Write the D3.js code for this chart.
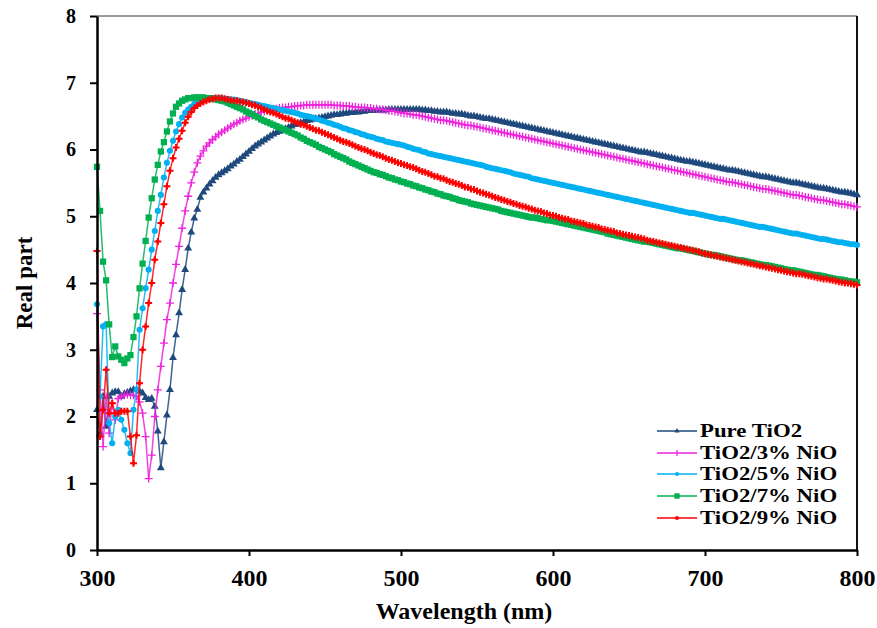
<!DOCTYPE html>
<html><head><meta charset="utf-8">
<script src="https://cdn.jsdelivr.net/npm/d3@7/dist/d3.min.js"></script>
<style>body{margin:0;background:#fff}text{font-family:"Liberation Serif","Times New Roman",serif;font-weight:bold;fill:#000}</style>
</head><body><svg id="c" width="877" height="628"></svg>
<script>
// Wavelength grid (nm), one point every 2 nm
const wavelengths = d3.range(300, 801, 2);

const pureTiO2 = [
2.10,1.75,2.30,1.85,2.30,2.35,2.37,2.37,2.30,2.34,
2.36,2.38,2.40,2.40,2.38,2.35,2.28,2.25,2.27,2.15,
1.78,1.23,1.62,2.02,2.40,2.88,3.22,3.55,3.90,4.20,
4.52,4.76,4.97,5.10,5.28,5.36,5.42,5.48,5.53,5.58,
5.62,5.65,5.68,5.71,5.75,5.78,5.82,5.85,5.89,5.93,
5.97,6.01,6.05,6.08,6.11,6.14,6.17,6.20,6.23,6.25,
6.27,6.29,6.31,6.33,6.35,6.37,6.38,6.40,6.41,6.43,
6.44,6.45,6.46,6.47,6.48,6.49,6.50,6.51,6.52,6.52,
6.53,6.54,6.54,6.55,6.55,6.56,6.56,6.57,6.57,6.58,
6.58,6.58,6.59,6.59,6.59,6.59,6.60,6.60,6.60,6.60,
6.60,6.60,6.60,6.60,6.60,6.60,6.60,6.59,6.59,6.58,
6.58,6.57,6.57,6.56,6.56,6.56,6.55,6.54,6.54,6.53,
6.53,6.52,6.51,6.50,6.50,6.49,6.48,6.47,6.46,6.46,
6.45,6.44,6.43,6.42,6.41,6.40,6.39,6.38,6.37,6.36,
6.35,6.34,6.33,6.32,6.31,6.30,6.29,6.28,6.27,6.26,
6.25,6.24,6.23,6.22,6.21,6.20,6.19,6.18,6.17,6.16,
6.15,6.14,6.13,6.12,6.11,6.10,6.09,6.08,6.07,6.06,
6.05,6.04,6.03,6.02,6.01,6.00,5.99,5.98,5.97,5.96,
5.96,5.95,5.94,5.93,5.92,5.91,5.90,5.89,5.88,5.87,
5.86,5.85,5.84,5.83,5.82,5.82,5.81,5.80,5.79,5.78,
5.77,5.76,5.75,5.74,5.73,5.72,5.71,5.70,5.69,5.69,
5.68,5.67,5.66,5.65,5.64,5.63,5.62,5.61,5.60,5.59,
5.59,5.58,5.57,5.56,5.55,5.54,5.53,5.52,5.51,5.50,
5.50,5.49,5.48,5.47,5.46,5.45,5.44,5.43,5.42,5.42,
5.41,5.40,5.39,5.38,5.37,5.36,5.36,5.35,5.34,5.33,
5.32];

const nio3 = [
3.54,2.40,1.55,2.30,1.75,2.20,1.95,2.27,2.30,2.32,
2.33,2.32,2.32,2.30,2.22,2.05,1.70,1.07,1.42,2.00,
2.40,2.75,3.10,3.45,3.70,4.00,4.28,4.55,4.82,5.08,
5.30,5.50,5.66,5.80,5.90,5.98,6.05,6.10,6.15,6.19,
6.23,6.26,6.29,6.32,6.35,6.38,6.40,6.43,6.45,6.47,
6.49,6.51,6.53,6.54,6.56,6.57,6.58,6.59,6.60,6.61,
6.62,6.63,6.63,6.64,6.64,6.65,6.65,6.66,6.66,6.67,
6.67,6.67,6.67,6.67,6.67,6.67,6.67,6.67,6.66,6.66,
6.66,6.65,6.65,6.65,6.64,6.64,6.63,6.63,6.63,6.62,
6.62,6.61,6.61,6.60,6.60,6.59,6.58,6.58,6.57,6.56,
6.55,6.54,6.54,6.53,6.52,6.52,6.51,6.50,6.49,6.48,
6.47,6.46,6.45,6.44,6.44,6.43,6.42,6.41,6.40,6.39,
6.38,6.37,6.36,6.36,6.35,6.34,6.33,6.32,6.31,6.30,
6.29,6.28,6.27,6.26,6.25,6.24,6.23,6.22,6.21,6.20,
6.19,6.18,6.17,6.16,6.15,6.14,6.13,6.12,6.11,6.10,
6.09,6.08,6.07,6.06,6.05,6.04,6.03,6.02,6.01,6.00,
5.99,5.98,5.97,5.96,5.95,5.94,5.93,5.92,5.91,5.90,
5.89,5.88,5.87,5.86,5.85,5.84,5.83,5.82,5.81,5.80,
5.79,5.78,5.77,5.76,5.75,5.74,5.73,5.72,5.71,5.70,
5.69,5.68,5.67,5.66,5.65,5.64,5.63,5.62,5.61,5.60,
5.59,5.58,5.57,5.56,5.55,5.54,5.53,5.52,5.51,5.51,
5.50,5.49,5.48,5.47,5.46,5.45,5.44,5.43,5.42,5.41,
5.41,5.40,5.39,5.38,5.37,5.36,5.35,5.34,5.33,5.32,
5.32,5.31,5.30,5.29,5.28,5.27,5.26,5.25,5.24,5.24,
5.23,5.22,5.21,5.20,5.19,5.18,5.18,5.17,5.16,5.15,
5.14];

const nio5 = [
3.68,2.30,3.35,3.38,1.90,1.60,2.00,2.10,1.95,1.80,
1.60,1.45,2.10,2.40,3.30,3.62,3.92,4.20,4.50,4.78,
5.08,5.32,5.58,5.80,5.98,6.13,6.27,6.38,6.48,6.55,
6.60,6.64,6.68,6.71,6.73,6.75,6.76,6.77,6.77,6.77,
6.77,6.77,6.76,6.76,6.75,6.75,6.74,6.73,6.72,6.71,
6.70,6.69,6.68,6.67,6.66,6.65,6.64,6.63,6.62,6.61,
6.60,6.59,6.58,6.57,6.56,6.55,6.54,6.52,6.51,6.50,
6.49,6.48,6.46,6.45,6.43,6.42,6.40,6.39,6.37,6.36,
6.34,6.32,6.31,6.29,6.28,6.26,6.25,6.23,6.22,6.20,
6.19,6.18,6.16,6.15,6.14,6.12,6.11,6.10,6.09,6.08,
6.07,6.06,6.04,6.03,6.01,6.00,5.99,5.97,5.96,5.94,
5.93,5.92,5.91,5.90,5.89,5.88,5.87,5.86,5.85,5.84,
5.83,5.82,5.81,5.80,5.79,5.78,5.77,5.76,5.74,5.73,
5.72,5.71,5.70,5.69,5.68,5.67,5.66,5.64,5.63,5.62,
5.61,5.60,5.59,5.57,5.56,5.55,5.54,5.53,5.52,5.51,
5.50,5.49,5.48,5.47,5.46,5.45,5.44,5.43,5.42,5.41,
5.40,5.39,5.38,5.37,5.36,5.35,5.34,5.33,5.32,5.31,
5.30,5.29,5.28,5.27,5.26,5.25,5.24,5.23,5.22,5.21,
5.20,5.19,5.18,5.17,5.16,5.15,5.14,5.13,5.12,5.11,
5.10,5.09,5.08,5.07,5.06,5.05,5.05,5.04,5.03,5.02,
5.01,5.00,4.99,4.98,4.97,4.96,4.96,4.95,4.94,4.93,
4.92,4.91,4.90,4.89,4.88,4.87,4.86,4.85,4.84,4.84,
4.83,4.82,4.81,4.80,4.79,4.78,4.77,4.76,4.75,4.74,
4.74,4.73,4.72,4.71,4.70,4.69,4.68,4.67,4.66,4.66,
4.65,4.64,4.63,4.62,4.61,4.61,4.60,4.59,4.58,4.58,
4.57];

const nio7 = [
5.74,5.08,4.32,4.04,3.38,2.89,3.05,2.90,2.85,2.80,
2.87,2.92,3.19,3.50,3.92,4.29,4.63,4.98,5.27,5.55,
5.77,5.97,6.11,6.27,6.42,6.54,6.64,6.69,6.73,6.75,
6.77,6.77,6.78,6.78,6.78,6.78,6.77,6.77,6.76,6.75,
6.74,6.73,6.72,6.70,6.68,6.66,6.64,6.62,6.60,6.57,
6.55,6.53,6.50,6.48,6.45,6.43,6.41,6.39,6.37,6.35,
6.33,6.31,6.29,6.27,6.25,6.23,6.21,6.18,6.16,6.13,
6.11,6.09,6.07,6.04,6.02,6.00,5.98,5.96,5.93,5.91,
5.89,5.87,5.85,5.82,5.80,5.78,5.76,5.74,5.72,5.70,
5.68,5.66,5.65,5.63,5.62,5.60,5.58,5.57,5.55,5.54,
5.52,5.51,5.49,5.48,5.46,5.45,5.43,5.42,5.40,5.39,
5.37,5.36,5.34,5.33,5.31,5.30,5.29,5.27,5.26,5.24,
5.23,5.22,5.21,5.19,5.18,5.17,5.16,5.15,5.14,5.13,
5.12,5.11,5.10,5.08,5.07,5.06,5.05,5.04,5.03,5.02,
5.01,5.00,4.99,4.98,4.98,4.97,4.96,4.95,4.94,4.94,
4.93,4.92,4.91,4.90,4.89,4.88,4.87,4.86,4.85,4.84,
4.83,4.82,4.81,4.80,4.79,4.78,4.77,4.76,4.74,4.73,
4.72,4.71,4.70,4.69,4.68,4.67,4.66,4.65,4.64,4.63,
4.62,4.62,4.61,4.60,4.59,4.58,4.57,4.56,4.55,4.54,
4.53,4.52,4.52,4.51,4.50,4.49,4.48,4.47,4.46,4.45,
4.44,4.43,4.42,4.42,4.41,4.40,4.39,4.38,4.37,4.36,
4.35,4.34,4.34,4.33,4.32,4.31,4.30,4.29,4.28,4.27,
4.27,4.26,4.25,4.24,4.23,4.22,4.21,4.20,4.19,4.19,
4.18,4.17,4.16,4.15,4.14,4.13,4.12,4.12,4.11,4.10,
4.09,4.08,4.07,4.06,4.05,4.05,4.04,4.03,4.02,4.02,
4.01];

const nio9 = [
4.48,1.70,2.10,2.70,2.05,2.20,2.05,2.05,2.08,2.08,
2.08,1.70,1.30,1.72,2.50,3.00,3.35,3.70,4.00,4.35,
4.62,4.90,5.18,5.45,5.68,5.87,6.03,6.16,6.28,6.40,
6.49,6.56,6.62,6.66,6.69,6.71,6.73,6.75,6.76,6.77,
6.77,6.77,6.76,6.75,6.74,6.73,6.73,6.72,6.71,6.70,
6.69,6.67,6.66,6.64,6.62,6.60,6.58,6.56,6.55,6.53,
6.51,6.49,6.47,6.46,6.44,6.42,6.40,6.38,6.37,6.35,
6.33,6.31,6.29,6.28,6.26,6.24,6.22,6.20,6.18,6.16,
6.14,6.12,6.11,6.09,6.07,6.05,6.03,6.01,6.00,5.98,
5.96,5.94,5.92,5.91,5.89,5.87,5.85,5.84,5.82,5.80,
5.79,5.77,5.76,5.74,5.73,5.71,5.69,5.67,5.66,5.64,
5.62,5.60,5.59,5.57,5.56,5.54,5.52,5.51,5.49,5.48,
5.46,5.44,5.43,5.41,5.40,5.38,5.36,5.35,5.33,5.32,
5.30,5.28,5.27,5.25,5.24,5.22,5.21,5.19,5.18,5.16,
5.15,5.14,5.12,5.11,5.09,5.08,5.07,5.05,5.04,5.02,
5.01,5.00,4.98,4.97,4.96,4.95,4.93,4.92,4.91,4.90,
4.89,4.87,4.86,4.85,4.84,4.83,4.81,4.80,4.79,4.78,
4.77,4.75,4.74,4.73,4.72,4.71,4.70,4.69,4.68,4.67,
4.66,4.64,4.63,4.62,4.61,4.60,4.59,4.58,4.57,4.56,
4.55,4.54,4.53,4.52,4.51,4.50,4.49,4.48,4.47,4.45,
4.44,4.43,4.42,4.41,4.40,4.39,4.38,4.37,4.36,4.35,
4.34,4.33,4.32,4.31,4.30,4.29,4.28,4.27,4.26,4.25,
4.24,4.23,4.22,4.21,4.20,4.19,4.18,4.17,4.16,4.15,
4.14,4.14,4.13,4.12,4.11,4.10,4.09,4.08,4.07,4.06,
4.06,4.05,4.04,4.03,4.02,4.01,4.00,4.00,3.99,3.98,
3.97];

const seriesNames = ["Pure TiO2", "TiO2/3% NiO", "TiO2/5% NiO", "TiO2/7% NiO", "TiO2/9% NiO"];
const seriesValues = [pureTiO2, nio3, nio5, nio7, nio9];
const seriesColors = ["#1f497d", "#ee22dd", "#00b0f0", "#00b050", "#ff0000"];
const seriesMarkers = ["triangle", "plus", "circle", "square", "star"];
const xTicks = [300, 400, 500, 600, 700, 800];
const yTicks = [0, 1, 2, 3, 4, 5, 6, 7, 8];
const xTitle = "Wavelength (nm)";
const yTitle = "Real part";

const svg = d3.select("#c");
const L = 97, R = 857, T = 16, B = 550;
const x = d3.scaleLinear().domain([300, 800]).range([L, R]);
const y = d3.scaleLinear().domain([0, 8]).range([B, T]);

// frame (top & right)
svg.append("line").attr("x1", L).attr("x2", R).attr("y1", T).attr("y2", T)
  .attr("stroke", "#9a9a9a").attr("stroke-width", 2);
svg.append("line").attr("x1", R).attr("x2", R).attr("y1", T).attr("y2", B)
  .attr("stroke", "#111").attr("stroke-width", 2);

function markerPath(type, s) {
  if (type === "triangle") return d3.symbol(d3.symbolTriangle, s * s * 0.55)();
  if (type === "square") return d3.symbol(d3.symbolSquare, s * s * 0.8)();
  if (type === "circle") return d3.symbol(d3.symbolCircle, s * s * 0.6)();
  return null;
}
function drawMarker(g, type, color, px, py) {
  if (type === "plus") {
    g.append("path").attr("d", `M${px-4},${py}H${px+4}M${px},${py-4}V${py+4}`)
      .attr("stroke", color).attr("stroke-width", 1.3).attr("fill", "none");
  } else if (type === "star") {
    g.append("path").attr("d", `M${px-3.5},${py}H${px+3.5}M${px},${py-3.5}V${py+3.5}`)
      .attr("stroke", color).attr("stroke-width", 2).attr("fill", "none");
    g.append("circle").attr("cx", px).attr("cy", py).attr("r", 1.8).attr("fill", color);
  } else {
    g.append("path").attr("d", markerPath(type, 7))
      .attr("transform", `translate(${px},${py})`).attr("fill", color);
  }
}

const line = d3.line().x((d, i) => x(wavelengths[i])).y(d => y(d));
const plot = svg.append("g");
seriesValues.forEach((vals, k) => {
  const g = plot.append("g");
  g.append("path").datum(vals).attr("d", line).attr("fill", "none")
    .attr("stroke", seriesColors[k]).attr("stroke-width", 1.5).attr("stroke-opacity", 0.85);
  vals.forEach((v, i) => drawMarker(g, seriesMarkers[k], seriesColors[k], x(wavelengths[i]), y(v)));
});

// axes
const yAxis = svg.append("g").attr("transform", `translate(${L},0)`)
  .call(d3.axisLeft(y).tickValues(yTicks).tickSize(7).tickSizeOuter(0).tickPadding(14).tickFormat(d3.format("d")));
const xAxis = svg.append("g").attr("transform", `translate(0,${B})`)
  .call(d3.axisBottom(x).tickValues(xTicks).tickSize(6).tickSizeOuter(0).tickPadding(13).tickFormat(d3.format("d")));
[yAxis, xAxis].forEach(a => {
  a.select(".domain").attr("stroke", "#000").attr("stroke-width", 2.5);
  a.selectAll(".tick line").attr("stroke", "#000").attr("stroke-width", 2);
  a.selectAll(".tick text").attr("font-family", "'Liberation Serif', serif")
    .attr("font-weight", "bold").attr("fill", "#000");
});
yAxis.selectAll(".tick text").attr("font-size", 20);
xAxis.selectAll(".tick text").attr("font-size", 24);

// titles
svg.append("text").attr("x", 464).attr("y", 619).attr("text-anchor", "middle")
  .attr("font-size", 24).text(xTitle);
svg.append("text").attr("transform", `translate(32,283) rotate(-90)`)
  .attr("text-anchor", "middle").attr("font-size", 23).text(yTitle);

// legend
const legY = [431, 453, 474, 496, 518];
seriesNames.forEach((name, k) => {
  const g = svg.append("g");
  g.append("line").attr("x1", 657).attr("x2", 697).attr("y1", legY[k]).attr("y2", legY[k])
    .attr("stroke", seriesColors[k]).attr("stroke-width", 1.5);
  const mt = seriesMarkers[k];
  if (mt === "plus") {
    g.append("path").attr("d", `M677,${legY[k]-3}V${legY[k]+3}`).attr("stroke", seriesColors[k]).attr("stroke-width", 1.2);
  } else if (mt === "star") {
    g.append("circle").attr("cx", 677).attr("cy", legY[k]).attr("r", 2).attr("fill", seriesColors[k]);
  } else {
    g.append("path").attr("d", markerPath(mt, mt === "square" ? 6 : 4.5))
      .attr("transform", `translate(677,${legY[k]})`).attr("fill", seriesColors[k]);
  }
  const t = g.append("text").attr("x", 700).attr("y", legY[k] + 6).attr("font-size", 19.5).text(name);
  const w = t.node().getComputedTextLength();
  t.attr("textLength", w * 1.17).attr("lengthAdjust", "spacingAndGlyphs");
});
</script></body></html>
